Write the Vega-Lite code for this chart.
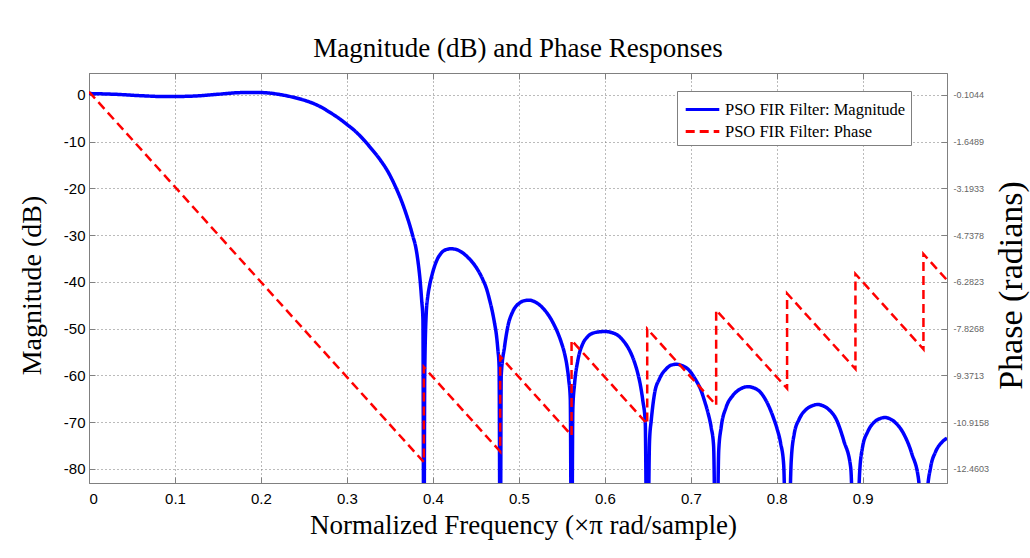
{
  "$schema": "https://vega.github.io/schema/vega-lite/v6.json",
  "width": 858,
  "height": 410,
  "autosize": "none",
  "padding": {"left": 89, "top": 73, "right": 83, "bottom": 75},
  "background": "white",
  "config": {
    "locale": {"number": {"decimal": ".", "thousands": ",", "grouping": [3], "currency": ["$", ""], "minus": "-"}},
    "view": {"stroke": "#808080", "strokeWidth": 1}
  },
  "title": {
    "text": "Magnitude (dB) and Phase Responses",
    "font": "Liberation Serif",
    "fontSize": 27,
    "fontWeight": "normal",
    "color": "black",
    "anchor": "middle",
    "baseline": "alphabetic",
    "offset": 16,
    "dy": 27
  },
  "datasets": {
    "mag": [
      {"x": 0, "y": 0.3}, {"x": 0.03, "y": 0.15}, {"x": 0.06, "y": -0.15}, {"x": 0.09, "y": -0.35},
      {"x": 0.12, "y": -0.25}, {"x": 0.15, "y": 0.15}, {"x": 0.175, "y": 0.5}, {"x": 0.195, "y": 0.55},
      {"x": 0.21, "y": 0.4}, {"x": 0.225, "y": 0.0}, {"x": 0.24, "y": -0.6}, {"x": 0.255, "y": -1.4},
      {"x": 0.268, "y": -2.4}, {"x": 0.28, "y": -3.7}, {"x": 0.29, "y": -4.9}, {"x": 0.30, "y": -6.3},
      {"x": 0.31, "y": -7.8}, {"x": 0.3186, "y": -9.4}, {"x": 0.328, "y": -11.4}, {"x": 0.338, "y": -13.7},
      {"x": 0.348, "y": -16.5}, {"x": 0.3574, "y": -20.0}, {"x": 0.364, "y": -22.9}, {"x": 0.369, "y": -25.5},
      {"x": 0.3735, "y": -28.1}, {"x": 0.3767, "y": -30.2}, {"x": 0.38, "y": -32.5}, {"x": 0.3826, "y": -35.5},
      {"x": 0.3853, "y": -40.0}, {"x": 0.387, "y": -44}, {"x": 0.3884, "y": -48}, {"x": 0.3895, "y": -110},
      {"x": 0.3905, "y": -60}, {"x": 0.3923, "y": -46.6}, {"x": 0.394, "y": -43.2}, {"x": 0.396, "y": -40.9},
      {"x": 0.399, "y": -38.5}, {"x": 0.402, "y": -36.6}, {"x": 0.4055, "y": -35.0}, {"x": 0.4098, "y": -33.8},
      {"x": 0.415, "y": -33.1}, {"x": 0.4214, "y": -32.9}, {"x": 0.428, "y": -33.1}, {"x": 0.4349, "y": -33.8},
      {"x": 0.4405, "y": -34.7}, {"x": 0.4465, "y": -35.9}, {"x": 0.4525, "y": -37.5}, {"x": 0.4581, "y": -39.5},
      {"x": 0.4625, "y": -41.5}, {"x": 0.4659, "y": -43.8}, {"x": 0.469, "y": -46.2}, {"x": 0.4717, "y": -48.8},
      {"x": 0.474, "y": -51.5}, {"x": 0.4756, "y": -54.5}, {"x": 0.477, "y": -58}, {"x": 0.4783, "y": -110},
      {"x": 0.4795, "y": -60}, {"x": 0.4834, "y": -53.8}, {"x": 0.4872, "y": -49.5}, {"x": 0.493, "y": -46.3},
      {"x": 0.5008, "y": -44.5}, {"x": 0.5065, "y": -44.0}, {"x": 0.5124, "y": -43.9}, {"x": 0.518, "y": -44.2},
      {"x": 0.524, "y": -44.9}, {"x": 0.53, "y": -46.0}, {"x": 0.5356, "y": -47.4}, {"x": 0.5405, "y": -49.0},
      {"x": 0.5453, "y": -50.9}, {"x": 0.5495, "y": -53.0}, {"x": 0.553, "y": -55.2}, {"x": 0.556, "y": -58},
      {"x": 0.558, "y": -60.9}, {"x": 0.5598, "y": -65}, {"x": 0.5613, "y": -110},
      {"x": 0.5628, "y": -67}, {"x": 0.5648, "y": -61.8}, {"x": 0.5686, "y": -56.8}, {"x": 0.5744, "y": -53.2},
      {"x": 0.579, "y": -51.9}, {"x": 0.5842, "y": -51.1}, {"x": 0.592, "y": -50.7}, {"x": 0.6, "y": -50.6},
      {"x": 0.6075, "y": -50.8}, {"x": 0.6151, "y": -51.4}, {"x": 0.622, "y": -52.7}, {"x": 0.6287, "y": -54.6},
      {"x": 0.634, "y": -56.9}, {"x": 0.6384, "y": -59.6}, {"x": 0.6415, "y": -62.2}, {"x": 0.6442, "y": -65.4},
      {"x": 0.647, "y": -70}, {"x": 0.6493, "y": -110},
      {"x": 0.652, "y": -74}, {"x": 0.654, "y": -69.6}, {"x": 0.6578, "y": -63.9}, {"x": 0.6636, "y": -60.7},
      {"x": 0.6714, "y": -58.6}, {"x": 0.677, "y": -57.8}, {"x": 0.683, "y": -57.6}, {"x": 0.69, "y": -57.9},
      {"x": 0.6965, "y": -58.6}, {"x": 0.7062, "y": -61.1}, {"x": 0.7115, "y": -63.0}, {"x": 0.7159, "y": -65.4},
      {"x": 0.72, "y": -68.0}, {"x": 0.7237, "y": -71.1}, {"x": 0.7265, "y": -75}, {"x": 0.7295, "y": -110},
      {"x": 0.7325, "y": -76}, {"x": 0.7353, "y": -71.1}, {"x": 0.7411, "y": -66.8}, {"x": 0.7488, "y": -64.3},
      {"x": 0.7575, "y": -62.9}, {"x": 0.7663, "y": -62.4}, {"x": 0.7779, "y": -63.1}, {"x": 0.787, "y": -65.2},
      {"x": 0.796, "y": -69.0}, {"x": 0.8005, "y": -71.5}, {"x": 0.8045, "y": -74.5}, {"x": 0.808, "y": -79},
      {"x": 0.812, "y": -110},
      {"x": 0.8168, "y": -78.3}, {"x": 0.8203, "y": -72.5}, {"x": 0.8262, "y": -69.3}, {"x": 0.834, "y": -67.3},
      {"x": 0.841, "y": -66.5}, {"x": 0.8477, "y": -66.2}, {"x": 0.854, "y": -66.5}, {"x": 0.86, "y": -67.2},
      {"x": 0.87, "y": -69.7}, {"x": 0.878, "y": -74.0}, {"x": 0.886, "y": -79.7}, {"x": 0.8915, "y": -110},
      {"x": 0.8963, "y": -81}, {"x": 0.8998, "y": -75.3}, {"x": 0.9056, "y": -72.1}, {"x": 0.9133, "y": -70},
      {"x": 0.919, "y": -69.3}, {"x": 0.926, "y": -69.0}, {"x": 0.932, "y": -69.3}, {"x": 0.9374, "y": -70},
      {"x": 0.9477, "y": -72.5}, {"x": 0.9572, "y": -76.8}, {"x": 0.9651, "y": -82.5}, {"x": 0.9706, "y": -110},
      {"x": 0.975, "y": -85.3}, {"x": 0.979, "y": -79.6}, {"x": 0.9845, "y": -76.4}, {"x": 0.992, "y": -74.3},
      {"x": 0.998, "y": -73.4}
    ],
    "phase": [
      {"i": 0, "x": 0, "p": 0},
      {"i": 1, "x": 0.3895, "p": -12.2365},
      {"i": 2, "x": 0.3895, "p": -9.0949},
      {"i": 3, "x": 0.4783, "p": -11.8846},
      {"i": 4, "x": 0.4783, "p": -8.7430},
      {"i": 5, "x": 0.5613, "p": -11.3506},
      {"i": 6, "x": 0.5613, "p": -8.2090},
      {"i": 7, "x": 0.6493, "p": -10.9736},
      {"i": 8, "x": 0.6493, "p": -7.8320},
      {"i": 9, "x": 0.7295, "p": -10.3515},
      {"i": 10, "x": 0.7295, "p": -7.2099},
      {"i": 11, "x": 0.812, "p": -9.8017},
      {"i": 12, "x": 0.812, "p": -6.6601},
      {"i": 13, "x": 0.8915, "p": -9.1577},
      {"i": 14, "x": 0.8915, "p": -6.0161},
      {"i": 15, "x": 0.9706, "p": -8.5012},
      {"i": 16, "x": 0.9706, "p": -5.3596},
      {"i": 17, "x": 0.998, "p": -6.2204}
    ]
  },
  "layer": [
    {
      "data": {"name": "mag"},
      "transform": [{"calculate": "'PSO FIR Filter: Magnitude'", "as": "series"}],
      "mark": {"type": "line", "clip": true, "strokeWidth": 3.5, "interpolate": "monotone"},
      "encoding": {
        "x": {
          "field": "x", "type": "quantitative",
          "scale": {"domain": [0, 0.998], "nice": false, "zero": false},
          "axis": {
            "orient": "bottom",
            "values": [0, 0.1, 0.2, 0.3, 0.4, 0.5, 0.6, 0.7, 0.8, 0.9],
            "format": "~g",
            "title": "Normalized Frequency (×π rad/sample)",
            "titleFont": "Liberation Serif", "titleFontSize": 27, "titleFontWeight": "normal", "titleColor": "black",
            "titleX": 434, "titleY": 50, "titleBaseline": "alphabetic", "titleAnchor": "middle", "titleAlign": "center",
            "labelFont": "Liberation Sans", "labelFontSize": 15, "labelColor": "black",
            "labelPadding": 14, "labelBaseline": "top",
            "tickSize": -6, "tickColor": "#808080",
            "domainColor": "#808080",
            "grid": true, "gridDash": [1, 3], "gridColor": "#777777", "gridWidth": 1, "gridOpacity": 1
          }
        },
        "y": {
          "field": "y", "type": "quantitative",
          "scale": {"domain": [-83.0, 4.7], "nice": false, "zero": false},
          "axis": {
            "orient": "left",
            "values": [-80, -70, -60, -50, -40, -30, -20, -10, 0],
            "title": "Magnitude (dB)",
            "titleFont": "Liberation Serif", "titleFontSize": 28, "titleFontWeight": "normal", "titleColor": "black",
            "titleAngle": -90, "titleX": -49, "titleY": 212, "titleBaseline": "alphabetic", "titleAlign": "center",
            "labelFont": "Liberation Sans", "labelFontSize": 15, "labelColor": "black",
            "labelPadding": 10,
            "tickSize": -6, "tickColor": "#808080",
            "domainColor": "#808080",
            "grid": true, "gridDash": [1, 3], "gridColor": "#777777", "gridWidth": 1, "gridOpacity": 1
          }
        },
        "color": {
          "field": "series", "type": "nominal",
          "scale": {"domain": ["PSO FIR Filter: Magnitude", "PSO FIR Filter: Phase"], "range": ["#0000ff", "#ff0000"]},
          "legend": {
            "title": null,
            "orient": "none", "legendX": 588, "legendY": 18,
            "symbolType": "M-1.4,0H1.4", "symbolSize": 576, "symbolStrokeWidth": 3, "symbolOffset": 7,
            "labelFont": "Liberation Serif", "labelFontSize": 16.5, "labelColor": "black", "labelLimit": 400,
            "labelOffset": 9, "rowPadding": -2, "padding": 5,
            "strokeColor": "#808080", "fillColor": "white"
          }
        },
        "strokeDash": {
          "field": "series", "type": "nominal",
          "scale": {"domain": ["PSO FIR Filter: Magnitude", "PSO FIR Filter: Phase"], "range": [[1, 0], [9, 5]]},
          "legend": {
            "title": null,
            "orient": "none", "legendX": 588, "legendY": 18,
            "symbolType": "M-1.4,0H1.4", "symbolSize": 576, "symbolStrokeWidth": 3, "symbolOffset": 7,
            "labelFont": "Liberation Serif", "labelFontSize": 16.5, "labelColor": "black", "labelLimit": 400,
            "labelOffset": 9, "rowPadding": -2, "padding": 5,
            "strokeColor": "#808080", "fillColor": "white"
          }
        }
      }
    },
    {
      "data": {"name": "phase"},
      "transform": [{"calculate": "'PSO FIR Filter: Phase'", "as": "series"}],
      "mark": {"type": "line", "clip": true, "strokeWidth": 2.5},
      "encoding": {
        "x": {
          "field": "x", "type": "quantitative",
          "scale": {"domain": [0, 0.998], "nice": false, "zero": false},
          "axis": {
            "orient": "top",
            "values": [0, 0.1, 0.2, 0.3, 0.4, 0.5, 0.6, 0.7, 0.8, 0.9],
            "labels": false, "title": null, "grid": false, "domain": false,
            "tickSize": -6, "tickColor": "#808080"
          }
        },
        "y": {
          "field": "p", "type": "quantitative",
          "scale": {"domain": [-12.9238, 0.6215], "nice": false, "zero": false},
          "axis": {
            "orient": "right",
            "values": [-0.1044, -1.6489, -3.1933, -4.7378, -6.2823, -7.8268, -9.3713, -10.9158, -12.4603],
            "format": ".4f",
            "title": "Phase (radians)",
            "titleFont": "Liberation Serif", "titleFontSize": 34, "titleFontWeight": "normal", "titleColor": "black",
            "titleAngle": -90, "titleX": 74, "titleY": 212, "titleBaseline": "alphabetic", "titleAlign": "center",
            "labelFont": "Liberation Sans", "labelFontSize": 9, "labelColor": "#666666",
            "labelPadding": 12,
            "tickSize": -6, "tickColor": "#808080",
            "domainColor": "#808080",
            "grid": false
          }
        },
        "order": {"field": "i", "type": "quantitative"},
        "color": {"field": "series", "type": "nominal"},
        "strokeDash": {"field": "series", "type": "nominal"}
      }
    }
  ],
  "resolve": {"scale": {"y": "independent"}, "axis": {"x": "independent"}}
}
